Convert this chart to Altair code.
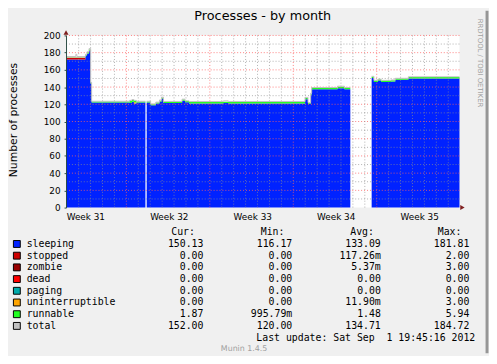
import altair as alt
import pandas as pd

# ---------------- data ----------------
# step start times, in days from the left edge of the graph (33 days shown)
day = [0.0, 0.825, 0.907, 1.625, 1.757, 1.93, 2.063, 2.145, 5.338, 5.528,
       5.693, 5.899, 6.658, 6.765, 7.095, 7.532, 7.838, 8.003, 8.168, 9.735,
       9.983, 10.313, 13.2, 13.613, 20.048, 20.296, 20.518, 20.6, 22.77, 23.348,
       23.843, 25.633, 25.823, 26.153, 26.425, 27.25, 27.613, 28.71, 33.0]
sleeping = [172, 172, 172, 176.5, 179, 181.8, 144, 122, 121.5, 123,
            121, 122, None, 122, 119, 121, 123, 126.5, 121.5, 124,
            122.5, 121, 121.5, 121, 126, 120.5, 131, 137.5, 138.5, 137.5,
            None, 150.5, 146, 147.5, 146, 146.5, 148.5, 150, 150]
stopped = [2, 2, 2, 0, 0, 0, 0, 0, 0, 0,
           0, 0, None, 0, 0, 0, 0, 0, 0, 0,
           0, 0, 0, 0, 0, 0, 0, 0, 0, 0,
           None, 0, 0, 0, 0, 0, 0, 0, 0]
uninterruptible = [0, 0, 0, 0, 0, 0, 0, 0, 0, 0,
                   1.5, 0, None, 0, 0, 0, 0, 0, 0, 0,
                   0, 0, 0, 0, 0, 0, 0, 0, 0, 0,
                   None, 0, 0, 0, 0, 0, 0, 0, 0]
runnable = [0.3, 0.3, 0.3, 1, 1.5, 2, 1, 1.2, 2.5, 2,
            1.5, 1.2, None, 1.2, 1, 1.2, 1.2, 1.2, 1.5, 1.5,
            1.3, 1.6, 1.5, 1.6, 1.2, 1, 1, 1.5, 2, 1.5,
            None, 1.5, 1.5, 1.5, 1.5, 1.5, 1.5, 1.8, 1.8]
total = [175.5, 178, 175.5, 178, 181, 184.7, 145.5, 123.5, 124.5, 125.5,
         124.5, 123.5, None, 123.5, 120.5, 122.5, 125, 128.3, 123.3, 126,
         124, 123.2, 124, 123.2, 128, 122, 133, 139.5, 141, 139.5,
         None, 152.5, 147.8, 149.2, 147.8, 148.3, 150.2, 152, 152]

series_names = ["sleeping", "stopped", "zombie", "dead", "paging",
                "uninterruptible", "runnable", "total"]
series_colors = ["#0022ff", "#cc0000", "#990000", "#ff0000", "#00aaaa",
                 "#ffa500", "#22ff22", "#c0c0c0"]
cur_vals = ["150.13", "0.00", "0.00", "0.00", "0.00", "0.00", "1.87", "152.00"]
min_vals = ["116.17", "0.00", "0.00", "0.00", "0.00", "0.00", "995.79m", "120.00"]
avg_vals = ["133.09", "117.26m", "5.37m", "0.00", "0.00", "11.90m", "1.48", "134.71"]
max_vals = ["181.81", "2.00", "3.00", "0.00", "0.00", "3.00", "5.94", "184.72"]
headers = ["Cur:", "Min:", "Avg:", "Max:"]

y_ticks = [0, 20, 40, 60, 80, 100, 120, 140, 160, 180, 200]
y_grid_minor = [10, 30, 50, 70, 90, 110, 130, 150, 170, 190]
y_grid_major = [20, 40, 60, 80, 100, 120, 140, 160, 180, 200]
week_starts = [5.06, 12.06, 19.06, 26.06]
day_lines = [1.06, 2.06, 3.06, 4.06, 6.06, 7.06, 8.06, 9.06, 10.06, 11.06,
             13.06, 14.06, 15.06, 16.06, 17.06, 18.06, 20.06, 21.06, 22.06,
             23.06, 24.06, 25.06, 27.06, 28.06, 29.06, 30.06, 31.06, 32.06]
week_label_days = [1.66, 8.66, 15.66, 22.66, 29.66]
week_labels = ["Week 31", "Week 32", "Week 33", "Week 34", "Week 35"]

title_text = "Processes - by month"
y_title = "Number of processes"
last_update = "Last update: Sat Sep\u00a0 1 19:45:16 2012"
footer = "Munin 1.4.5"
side_text = "RRDTOOL / TOBI OETIKER"

# ---------------- tables ----------------
rows = []
for name, vals in [("sleeping", sleeping), ("stopped", stopped),
                   ("uninterruptible", uninterruptible), ("runnable", runnable)]:
    for d, v in zip(day, vals):
        rows.append({"day": d, "series": name,
                     "value": 0.0 if v is None else float(v),
                     "ord": series_names.index(name)})
area_df = pd.DataFrame(rows)

trows = []
seg = 0
idx = 0
for i in range(len(day) - 1):
    if total[i] is None:
        seg += 1
        continue
    trows.append({"day": day[i], "value": total[i], "seg": seg, "idx": idx}); idx += 1
    trows.append({"day": day[i + 1], "value": total[i], "seg": seg, "idx": idx}); idx += 1
total_df = pd.DataFrame(trows)

leg_df = pd.DataFrame({"row": list(range(len(series_names))), "name": series_names,
                       "color": series_colors, "cur": cur_vals, "min": min_vals,
                       "avg": avg_vals, "max": max_vals})
one = pd.DataFrame({"k": [0]})

# ---------------- styling ----------------
AXIS = "#2C4D43"
ARROW = "#7F1F1F"
SANS = "DejaVu Sans"
MONO = "DejaVu Sans Mono"

xs = alt.Scale(domain=[0, 33], nice=False, zero=False)
ys = alt.Scale(domain=[0, 200], nice=False, zero=False)
rs = alt.Scale(domain=[0, 7], range=[212, 295.3], nice=False, zero=False)

area = alt.Chart(area_df).mark_area(interpolate="step-after").encode(
    x=alt.X("day:Q", scale=xs,
            axis=alt.Axis(labels=False, ticks=False, grid=False, title=None,
                          domainColor=AXIS, domainWidth=1, zindex=1)),
    y=alt.Y("value:Q", stack="zero", scale=ys,
            axis=alt.Axis(values=y_ticks, grid=False, title=None, labelFont=SANS,
                          labelFontSize=9, labelColor="#000000", tickSize=2,
                          tickColor=AXIS, domainColor=AXIS, labelPadding=4,
                          zindex=1)),
    color=alt.Color("series:N", scale=alt.Scale(domain=series_names, range=series_colors),
                    legend=None),
    order=alt.Order("ord:Q", sort="ascending"),
)

total_line = alt.Chart(total_df).mark_line(color="#c0c0c0", strokeWidth=1).encode(
    x=alt.X("day:Q", scale=xs, axis=None),
    y=alt.Y("value:Q", scale=ys, axis=None),
    detail="seg:N",
    order="idx:Q",
)

ygmin = alt.Chart(pd.DataFrame({"v": y_grid_minor})).mark_rule(
    color="#8f8f8f", strokeDash=[1, 2], opacity=0.7, strokeWidth=1).encode(
    y=alt.Y("v:Q", scale=ys, axis=None))
ygmaj = alt.Chart(pd.DataFrame({"v": y_grid_major})).mark_rule(
    color="#ff5f5f", strokeDash=[1, 2], opacity=0.8, strokeWidth=1).encode(
    y=alt.Y("v:Q", scale=ys, axis=None))
xgmin = alt.Chart(pd.DataFrame({"d": day_lines})).mark_rule(
    color="#8f8f8f", strokeDash=[1, 2], opacity=0.7, strokeWidth=1).encode(
    x=alt.X("d:Q", scale=xs, axis=None))
xgmaj = alt.Chart(pd.DataFrame({"d": week_starts})).mark_rule(
    color="#ff5f5f", strokeDash=[1, 2], opacity=0.8, strokeWidth=1).encode(
    x=alt.X("d:Q", scale=xs, axis=None))

week_text = alt.Chart(pd.DataFrame({"d": week_label_days, "lab": week_labels})).mark_text(
    font=SANS, fontSize=9, color="#000000", align="center", baseline="middle").encode(
    x=alt.X("d:Q", scale=xs, axis=None), y=alt.value(185), text="lab:N")

xarrow = alt.Chart(one).mark_point(shape="triangle-right", filled=True, size=26,
                                   color=ARROW, opacity=1, xOffset=3).encode(
    x=alt.XDatum(33, type="quantitative", scale=xs, axis=None),
    y=alt.YDatum(0, type="quantitative", scale=ys, axis=None))
yarrow = alt.Chart(one).mark_point(shape="triangle-up", filled=True, size=26,
                                   color=ARROW, opacity=1, yOffset=-3).encode(
    x=alt.XDatum(0, type="quantitative", scale=xs, axis=None),
    y=alt.YDatum(200, type="quantitative", scale=ys, axis=None))

def txt(text, x, y, **kw):
    base = dict(font=SANS, fontSize=9, color="#000000", align="center", baseline="middle")
    base.update(kw)
    return alt.Chart(one).mark_text(**base).encode(
        x=alt.value(x), y=alt.value(y), text=alt.value(text))

title = txt(title_text, 200, -20, fontSize=13)
ytitle = txt(y_title, -53, 86, fontSize=11, angle=270)
side = txt(side_text, 421, 28, fontSize=7, angle=90, color="#a0a0a0")

row_y = alt.Y("row:Q", scale=rs, axis=None)
swatch = alt.Chart(leg_df).mark_square(size=49, filled=True, stroke="#000000",
                                       strokeWidth=1, opacity=1).encode(
    x=alt.value(-50), y=row_y, color=alt.Color("color:N", scale=None))

def col(field, x, align):
    return alt.Chart(leg_df).mark_text(font=MONO, fontSize=10, color="#000000",
                                       align=align, baseline="middle").encode(
        x=alt.value(x), y=row_y, text=f"{field}:N")

leg_name = col("name", -40, "left")
leg_cur = col("cur", 139.7, "right")
leg_min = col("min", 230, "right")
leg_avg = col("avg", 320, "right")
leg_max = col("max", 410, "right")

def rowtxt(text, x, r, **kw):
    base = dict(font=MONO, fontSize=10, color="#000000", align="right", baseline="middle")
    base.update(kw)
    return alt.Chart(one).mark_text(**base).encode(
        x=alt.value(x), y=alt.YDatum(r, type="quantitative", scale=rs, axis=None),
        text=alt.value(text))

hdr_layers = [rowtxt(h, hx, -1) for h, hx in zip(headers, [131, 222, 313, 402])]
upd = rowtxt(last_update, 416, 8)
munin = rowtxt(footer, 181, 9, font=SANS, fontSize=8, color="#a0a0a0", align="center")

border = alt.Chart(one).mark_rule(color="#969696", strokeWidth=3).encode(
    x=alt.value(428), y=alt.value(-25), y2=alt.value(323))

chart = alt.layer(
    area, ygmin, ygmaj, xgmin, xgmaj, total_line, xarrow, yarrow, week_text,
    title, ytitle, side, swatch, leg_name, leg_cur, leg_min, leg_avg, leg_max,
    *hdr_layers, upd, munin, border,
).resolve_scale(y="independent").properties(
    width=400, height=175,
    autosize=alt.AutoSizeParams(type="none"),
    padding={"left": 59, "top": 25, "right": 30, "bottom": 148},
    background="#F0F0F0",
).configure_view(stroke=None, fill="white")

chart.save("out.html", embed_options={"renderer": "svg", "actions": False})
